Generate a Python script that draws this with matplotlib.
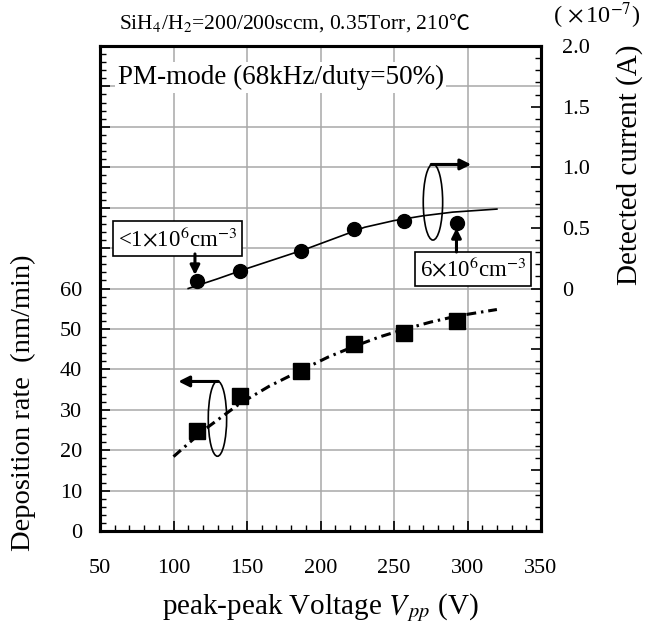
import matplotlib
matplotlib.use('Agg')
import matplotlib.pyplot as plt
from matplotlib.patches import Ellipse
from matplotlib.ticker import MultipleLocator

plt.rcParams['font.family'] = 'Liberation Serif'
plt.rcParams['mathtext.fontset'] = 'stix'

# Data
vpp = [116, 145, 187, 223, 257, 293]
dep_rate = [24.8, 33.3, 39.7, 46.3, 49.1, 52.0]          # nm/min, left axis
current = [0.062, 0.144, 0.312, 0.488, 0.557, 0.538]     # x1e-7 A, right axis

# hand drawn trend curves
dep_fit_v = [100, 120, 145, 165, 187, 205, 223, 240, 257, 275, 293, 320]
dep_fit = [18.4, 24.8, 31.5, 35.8, 39.8, 43.0, 45.7, 48.0, 49.9, 51.7, 53.2, 54.8]
cur_fit_v = [110, 130, 150, 170, 190, 210, 230, 250, 270, 290, 320]
cur_fit = [0.0, 0.08, 0.165, 0.245, 0.325, 0.415, 0.505, 0.56, 0.60, 0.63, 0.655]

left_ticks = list(range(0, 130, 10))
left_labels = [str(t) if t <= 60 else '' for t in left_ticks]
right_ticks = [-2.0, -1.5, -1.0, -0.5, 0.0, 0.5, 1.0, 1.5, 2.0]
right_labels = ['', '', '', '', '0', '0.5', '1.0', '1.5', '2.0']
x_ticks = [50, 100, 150, 200, 250, 300, 350]

fig = plt.figure(figsize=(6.5, 6.37), dpi=100)
ax = fig.add_axes([100/650, 1 - 531/637, 441/650, 485/637])
ax2 = ax.twinx()

# lower panel: deposition rate
ax.plot(dep_fit_v, dep_fit, color='black', lw=2.2, dashes=[3.2, 1.6, 0.8, 1.6])
ax.plot(vpp, dep_rate, 's', color='black', ms=11, ls='none')

ax.set_xlim(50, 350)
ax.set_ylim(0, 120)
ax.set_xticks(x_ticks)
ax.xaxis.set_minor_locator(MultipleLocator(10))
ax.set_yticks(left_ticks)
ax.set_yticklabels(left_labels)
ax.yaxis.set_minor_locator(MultipleLocator(2))
ax.grid(True, which='major', color='#a8a8a8', lw=1.1)
ax.set_axisbelow(True)
ax.tick_params(axis='both', which='major', direction='in', length=7, width=1.2, labelsize=16)
ax.tick_params(axis='both', which='minor', direction='in', length=4, width=1.0)
ax.tick_params(axis='x', which='both', top=False, pad=20)
ax.tick_params(axis='y', which='both', right=False, pad=13)
ax.set_xlabel('peak-peak Voltage $V_{\\,pp}$ (V)', fontsize=21, labelpad=10)
ax.set_ylabel('Deposition rate  (nm/min)', fontsize=20.5)
ax.yaxis.set_label_coords(-0.145, 0.265)

# upper panel: detected current
ax2.plot(cur_fit_v, cur_fit, color='black', lw=1.2)
ax2.plot(vpp, current, 'o', color='black', ms=10, ls='none')
ax2.set_ylim(-2.0, 2.0)
ax2.set_yticks(right_ticks)
ax2.set_yticklabels(right_labels)
ax2.yaxis.set_minor_locator(MultipleLocator(0.1))
ax2.tick_params(axis='y', which='major', direction='in', length=7, width=1.2, labelsize=16, pad=15)
ax2.tick_params(axis='y', which='minor', direction='in', length=4, width=1.0)
ax2.set_ylabel('Detected current (A)', fontsize=21)
ax2.yaxis.set_label_coords(1.17, 0.755)

for a in (ax, ax2):
    for s in a.spines.values():
        s.set_linewidth(2.2)

# ellipses with arrows pointing to each axis
ax.add_patch(Ellipse((129.9, 27.8), 12.5, 18.6, fill=False, ec='black', lw=1.2))
ax.annotate('', xy=(103.3, 37.0), xytext=(130.5, 37.0),
            arrowprops=dict(arrowstyle='-|>', color='black', lw=2.2, mutation_scale=16,
                            shrinkA=0, shrinkB=0))
ax2.add_patch(Ellipse((276.5, 0.713), 13.2, 0.627, fill=False, ec='black', lw=1.2))
ax2.annotate('', xy=(302.5, 1.023), xytext=(275.3, 1.023),
             arrowprops=dict(arrowstyle='-|>', color='black', lw=2.2, mutation_scale=16,
                             shrinkA=0, shrinkB=0))

# density call-outs
box = dict(boxstyle='square,pad=0.22', fc='white', ec='black', lw=1.2)
arw = dict(arrowstyle='-|>', color='black', lw=2.2, mutation_scale=14, shrinkA=0, shrinkB=0)
ax2.text(102.7, 0.412, '<1$\\times$10$^{6}$cm$^{-3}$', fontsize=16.5,
         ha='center', va='center', bbox=box)
ax2.annotate('', xy=(114.6, 0.111), xytext=(114.6, 0.285), arrowprops=arw)
ax2.text(303.7, 0.161, '6$\\times$10$^{6}$cm$^{-3}$', fontsize=16.5,
         ha='center', va='center', bbox=box)
ax2.annotate('', xy=(292.5, 0.499), xytext=(292.5, 0.301), arrowprops=arw)

# condition texts
ax2.text(0.04, 0.935, 'PM-mode (68kHz/duty=50%)', transform=ax2.transAxes, fontsize=19.5,
         ha='left', va='center',
         bbox=dict(boxstyle='square,pad=0.1', fc='white', ec='none'))
t1 = fig.text(119/650, 1 - 24/637, 'SiH$_4$/H$_2$=200/200sccm, 0.35Torr, 210',
              fontsize=15.5, ha='left', va='center')
ax2.annotate('\u2103', xy=(1.0, 0.5), xycoords=t1, fontsize=15, ha='left', va='center',
             family=['Noto Sans CJK JP', 'DejaVu Sans'])
fig.text(553/650, 1 - 16/637, '( $\\times\\,$10$^{-7}$)', fontsize=17.5, ha='left', va='center')

fig.savefig('out.png', dpi=100)
